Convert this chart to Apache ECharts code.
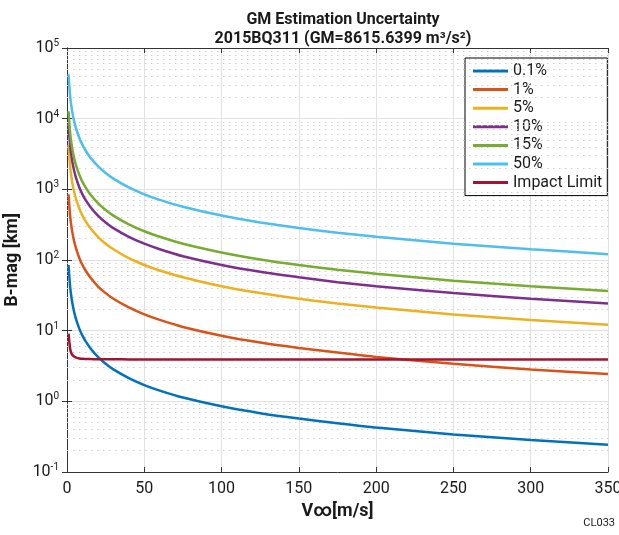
<!DOCTYPE html>
<html>
<head>
<meta charset="utf-8">
<style>
  html, body { margin: 0; padding: 0; background: #fff; }
  #chart { width: 619px; height: 535px; }
</style>
<script src="https://cdn.jsdelivr.net/npm/echarts@6/dist/echarts.min.js"></script>
</head>
<body>
<div id="chart"></div>
<script>
// Hyperbolic excess speed samples [m/s]
const vInf = [1, 2, 3, 4, 5, 6, 8, 10, 12, 15, 20, 25, 30, 40, 50, 60, 75, 100, 125, 150, 175, 200, 250, 300, 350];

// B-plane magnitude [km] for each GM uncertainty level
const b01  = [85, 42.5, 28.3, 21.3, 17, 14.2, 10.6, 8.5, 7.1, 5.7, 4.25, 3.4, 2.83, 2.13, 1.7, 1.42, 1.13, 0.85, 0.68, 0.57, 0.49, 0.425, 0.34, 0.283, 0.243];
const b1   = [850, 425, 283, 213, 170, 142, 106, 85, 71, 57, 42.5, 34, 28.3, 21.3, 17, 14.2, 11.3, 8.5, 6.8, 5.7, 4.9, 4.25, 3.4, 2.83, 2.43];
const b5   = [4250, 2125, 1417, 1063, 850, 708, 531, 425, 354, 283, 213, 170, 142, 106, 85, 71, 57, 42.5, 34, 28.3, 24.3, 21.3, 17, 14.2, 12.1];
const b10  = [8500, 4250, 2833, 2125, 1700, 1417, 1063, 850, 708, 567, 425, 340, 283, 213, 170, 142, 113, 85, 68, 57, 48.6, 42.5, 34, 28.3, 24.3];
const b15  = [12750, 6375, 4250, 3188, 2550, 2125, 1594, 1275, 1063, 850, 638, 510, 425, 319, 255, 213, 170, 128, 102, 85, 72.9, 63.8, 51, 42.5, 36.4];
const b50  = [42500, 21250, 14167, 10625, 8500, 7083, 5313, 4250, 3542, 2833, 2125, 1700, 1417, 1063, 850, 708, 567, 425, 340, 283, 243, 213, 170, 142, 121];
const bImp = [9.1, 5.6, 4.7, 4.4, 4.25, 4.15, 4.05, 4.0, 3.98, 3.96, 3.94, 3.93, 3.93, 3.92, 3.92, 3.92, 3.92, 3.92, 3.92, 3.92, 3.92, 3.92, 3.92, 3.92, 3.92];

const seriesNames = ['0.1%', '1%', '5%', '10%', '15%', '50%', 'Impact Limit'];
const seriesData = [b01, b1, b5, b10, b15, b50, bImp];
const colors = ['#0072BD', '#D95319', '#EDB120', '#7E2F8E', '#77AC30', '#4DBEEE', '#A2142F'];

const xTicks = [0, 50, 100, 150, 200, 250, 300, 350];
const yDecades = [-1, 0, 1, 2, 3, 4, 5];

const FONT = 'Roboto, "Liberation Sans Narrow", "Noto Sans", sans-serif';

// Minor gridline levels (2..9 within each decade)
const minorLevels = [];
for (let e = -1; e < 5; e++) {
  for (let m = 2; m <= 9; m++) minorLevels.push(m * Math.pow(10, e));
}

function decadeLabel(v) {
  const e = Math.round(Math.log10(v));
  if (!yDecades.includes(e)) return '';
  return '{b|10}{s|' + e + '}';
}

const chart = echarts.init(document.getElementById('chart'), null, { renderer: 'canvas' });

const lineSeries = seriesNames.map((name, i) => ({
  name: name,
  type: 'line',
  data: vInf.map((v, k) => [v, seriesData[i][k]]),
  smooth: 0.2,
  symbol: 'none',
  lineStyle: { color: colors[i], width: 2.5 },
  itemStyle: { color: colors[i] },
  z: 5 + i
}));

// Dotted minor grid lines along the log axis
lineSeries.unshift({
  name: 'minorGrid',
  type: 'line',
  data: [],
  silent: true,
  markLine: {
    silent: true,
    symbol: 'none',
    label: { show: false },
    lineStyle: { color: '#cfcfcf', type: [1.5, 4.5], width: 1 },
    data: minorLevels.map(v => ({ yAxis: v }))
  },
  z: 1
});

chart.setOption({
  animation: false,
  backgroundColor: '#ffffff',
  textStyle: { fontFamily: FONT },
  title: {
    text: 'GM Estimation Uncertainty\n2015BQ311 (GM=8615.6399 m³/s²)',
    left: 338,
    textAlign: 'center',
    top: 5,
    textStyle: { fontFamily: FONT, fontSize: 16, fontWeight: 'bold', color: '#1a1a1a', lineHeight: 19 }
  },
  grid: { left: 67, right: 11, top: 48, bottom: 63, containLabel: false, outerBoundsMode: 'none' },
  legend: {
    data: seriesNames,
    orient: 'vertical',
    left: 465,
    top: 58,
    icon: 'rect',
    itemWidth: 35,
    itemHeight: 3,
    itemGap: 2.6,
    padding: [5, 5, 5, 8],
    backgroundColor: '#ffffff',
    borderColor: '#000000',
    borderWidth: 1,
    textStyle: { fontFamily: FONT, fontSize: 16, lineHeight: 16, color: '#1a1a1a', padding: [0, 0, 0, 0] }
  },
  xAxis: [{
    type: 'value',
    min: 0, max: 350, interval: 50,
    name: 'V∞[m/s]',
    nameLocation: 'middle',
    nameGap: 30,
    nameTextStyle: { fontFamily: FONT, fontSize: 18, fontWeight: 'bold', color: '#1a1a1a' },
    axisLine: { show: true, lineStyle: { color: '#333', width: 1 } },
    axisTick: { show: true, inside: true, length: 5, lineStyle: { color: '#333' } },
    axisLabel: { fontFamily: FONT, fontSize: 16, color: '#1a1a1a', margin: 9,
      formatter: v => xTicks.includes(v) ? String(v) : '' },
    splitLine: { show: true, lineStyle: { color: '#e2e2e2', width: 1 } }
  }, {
    type: 'value',
    position: 'top',
    min: 0, max: 350, interval: 50,
    axisLine: { show: true, lineStyle: { color: '#333', width: 1 } },
    axisTick: { show: true, inside: true, length: 5, lineStyle: { color: '#333' } },
    axisLabel: { show: false },
    splitLine: { show: false }
  }],
  yAxis: [{
    type: 'log',
    logBase: 10,
    min: 0.1, max: 100000,
    name: 'B-mag [km]',
    nameLocation: 'middle',
    nameGap: 40,
    nameRotate: 90,
    nameTextStyle: { fontFamily: FONT, fontSize: 18, fontWeight: 'bold', color: '#1a1a1a' },
    axisLine: { show: true, lineStyle: { color: '#333', width: 1 } },
    axisTick: { show: true, inside: true, length: 5, lineStyle: { color: '#333' } },
    axisLabel: {
      margin: 8,
      formatter: decadeLabel,
      rich: {
        b: { fontFamily: FONT, fontSize: 16, color: '#1a1a1a' },
        s: { fontFamily: FONT, fontSize: 10, color: '#1a1a1a', verticalAlign: 'top', padding: [0, 0, 9, 0] }
      }
    },
    splitLine: { show: true, lineStyle: { color: '#e2e2e2', width: 1 } }
  }, {
    type: 'log',
    logBase: 10,
    min: 0.1, max: 100000,
    position: 'right',
    axisLine: { show: true, lineStyle: { color: '#333', width: 1 } },
    axisTick: { show: true, inside: true, length: 5, lineStyle: { color: '#333' } },
    axisLabel: { show: false },
    splitLine: { show: false }
  }],
  graphic: [{
    type: 'text',
    right: 4,
    top: 518,
    style: { text: 'CL033', font: '11px ' + FONT, fill: '#1a1a1a' }
  }],
  series: lineSeries
});
</script>
</body>
</html>
